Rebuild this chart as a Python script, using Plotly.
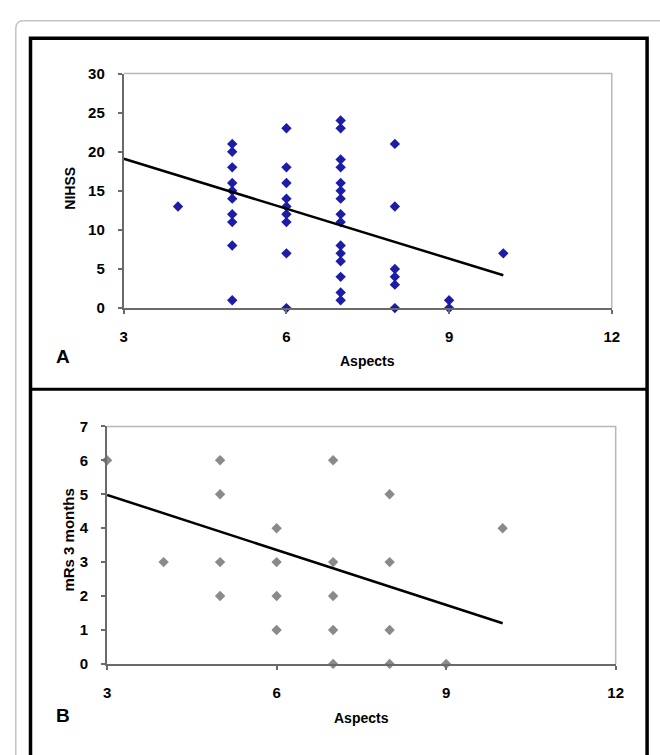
import plotly.graph_objects as go

# ---------------- data ----------------
# Panel A: Aspects vs NIHSS
a_x = [4,
       5, 5, 5, 5, 5, 5, 5, 5, 5, 5,
       6, 6, 6, 6, 6, 6, 6, 6, 6,
       7, 7, 7, 7, 7, 7, 7, 7, 7, 7, 7, 7, 7, 7, 7,
       8, 8, 8, 8, 8, 8,
       9, 9,
       10]
a_y = [13,
       21, 20, 18, 16, 15, 14, 12, 11, 8, 1,
       23, 18, 16, 14, 13, 12, 11, 7, 0,
       24, 23, 19, 18, 16, 15, 14, 12, 11, 8, 7, 6, 4, 2, 1,
       21, 13, 5, 4, 3, 0,
       1, 0,
       7]
a_trend_x = [3, 10]
a_trend_y = [19.1, 4.2]

# Panel B: Aspects vs mRs 3 months
b_x = [3, 4, 5, 5, 5, 5, 6, 6, 6, 6, 7, 7, 7, 7, 7, 8, 8, 8, 8, 9, 10]
b_y = [6, 3, 6, 5, 3, 2, 4, 3, 2, 1, 6, 3, 2, 1, 0, 5, 3, 1, 0, 0, 4]
b_trend_x = [3, 10]
b_trend_y = [4.98, 1.2]

x_ticks = [3, 6, 9, 12]
a_y_ticks = [0, 5, 10, 15, 20, 25, 30]
b_y_ticks = [0, 1, 2, 3, 4, 5, 6, 7]

# ---------------- layout helpers ----------------
W, H = 660, 755
def px(x):
    return x / W
def py(y):
    return 1 - y / H

FONT = "Liberation Sans, Arial, sans-serif"

fig = go.Figure()

fig.add_trace(go.Scatter(x=a_x, y=a_y, mode="markers", xaxis="x", yaxis="y",
                         marker=dict(symbol="diamond", size=8, color="#1c1ca8"),
                         showlegend=False, cliponaxis=False))
fig.add_trace(go.Scatter(x=a_trend_x, y=a_trend_y, mode="lines", xaxis="x", yaxis="y",
                         line=dict(color="black", width=2.5), showlegend=False))
fig.add_trace(go.Scatter(x=b_x, y=b_y, mode="markers", xaxis="x2", yaxis="y2",
                         marker=dict(symbol="diamond", size=8, color="#8a8a8a"),
                         showlegend=False, cliponaxis=False))
fig.add_trace(go.Scatter(x=b_trend_x, y=b_trend_y, mode="lines", xaxis="x2", yaxis="y2",
                         line=dict(color="black", width=2.5), showlegend=False))

axis_common = dict(showgrid=False, zeroline=False, showline=True, linecolor="#6a6a6a",
                   linewidth=2, ticks="outside", ticklen=4, tickcolor="#6a6a6a", tickwidth=1.5,
                   tickfont=dict(family=FONT, size=15, color="black", weight="bold"))

fig.update_layout(
    width=W, height=H, margin=dict(l=0, r=0, t=0, b=0),
    paper_bgcolor="white", plot_bgcolor="white",
    xaxis=dict(domain=[px(122), px(619)], range=[3, 12], tickvals=x_ticks, anchor="y",
               ticklabelstandoff=10, **axis_common),
    yaxis=dict(domain=[py(306), py(66)], range=[0, 30], tickvals=a_y_ticks, anchor="x",
               ticklabelstandoff=10, **axis_common),
    xaxis2=dict(domain=[px(105), px(623)], range=[3, 12], tickvals=x_ticks, anchor="y2",
                ticklabelstandoff=10, **axis_common),
    yaxis2=dict(domain=[py(670), py(427)], range=[0, 7], tickvals=b_y_ticks, anchor="x2",
                ticklabelstandoff=10, **axis_common),
)

shapes = []
# outer grey rounded frame
r = 8
shapes.append(dict(type="path", xref="paper", yref="paper",
                   path=f"M {px(12)},{py(H+10)} L {px(12)},{py(12+r)} Q {px(12)},{py(12)} {px(12+r)},{py(12)} L {px(W+10)},{py(12)}",
                   line=dict(color="#c4c4c4", width=1.5)))
# black frame
shapes.append(dict(type="path", xref="paper", yref="paper",
                   path=f"M {px(27)},{py(H+10)} L {px(27)},{py(30)} L {px(655)},{py(30)} L {px(655)},{py(H+10)}",
                   line=dict(color="black", width=3.5)))
shapes.append(dict(type="line", xref="paper", yref="paper",
                   x0=px(27), x1=px(655), y0=py(389), y1=py(389),
                   line=dict(color="black", width=3)))
# light plot borders (top and right)
for (l, t, rr, b) in [(122, 66, 619, 306), (105, 427, 623, 670)]:
    shapes.append(dict(type="path", xref="paper", yref="paper",
                       path=f"M {px(l)},{py(t)} L {px(rr)},{py(t)} L {px(rr)},{py(b)}",
                       line=dict(color="#b8b8b8", width=1.5)))
fig.update_layout(shapes=shapes)

ann = []
def label(x, y, text, size, angle=0):
    ann.append(dict(x=px(x), y=py(y), xref="paper", yref="paper", text=text, showarrow=False,
                    textangle=angle, xanchor="center", yanchor="middle",
                    font=dict(family=FONT, size=size, color="black", weight="bold")))
label(60, 355, "A", 19)
label(60, 723, "B", 19)
label(370, 360, "Aspects", 14)
label(364, 725, "Aspects", 14)
label(67, 183, "NIHSS", 14, -90)
label(66, 543, "mRs 3 months", 15, -90)
fig.update_layout(annotations=ann)

fig.write_html("out.html", config={"displayModeBar": False},
               post_script="document.body.style.margin='0';document.body.style.overflow='hidden';")
